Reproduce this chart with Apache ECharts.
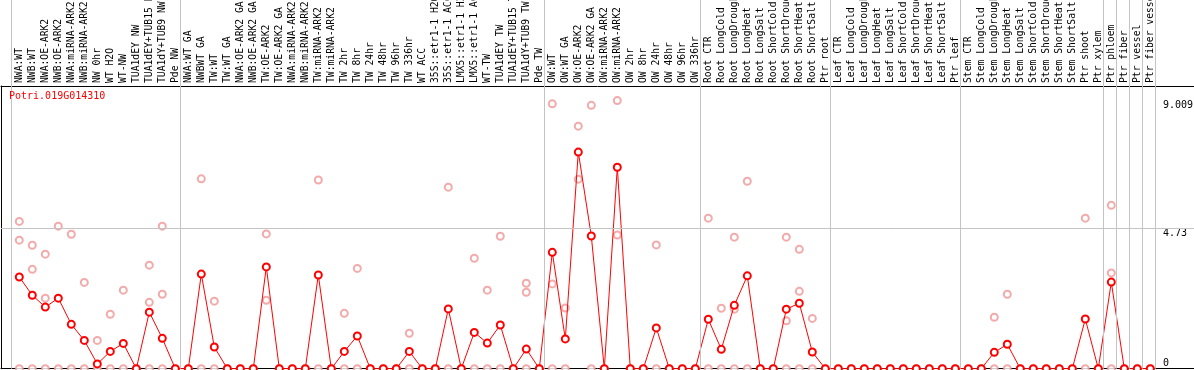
<!DOCTYPE html>
<html><head><meta charset="utf-8">
<script src="https://cdn.jsdelivr.net/npm/echarts@6/dist/echarts.min.js"></script>
<style>html,body{margin:0;padding:0;background:#fff}#c{width:1194px;height:370px}</style>
</head><body><div id="c"></div>
<script>
const geneId = 'Potri.019G014310';

const categories = [
  'NWA:WT','NWB:WT','NWA:OE-ARK2','NWB:OE-ARK2','NWA:miRNA-ARK2','NWB:miRNA-ARK2','NW 0hr','WT H2O','WT-NW',
  'TUA1dEY NW','TUA1dEY+TUB15 NW','TUA1dY+TUB9 NW','Pde NW',
  'NWA:WT GA','NWBWT GA','TW:WT','TW:WT GA','NWA:OE-ARK2 GA','NWB:OE-ARK2 GA','TW:OE-ARK2','TW:OE-ARK2 GA',
  'NWA:miRNA-ARK2','NWB:miRNA-ARK2','TW:miRNA-ARK2','TW:miRNA-ARK2','TW 2hr','TW 8hr','TW 24hr','TW 48hr','TW 96hr','TW 336hr',
  'WT ACC','35S::etr1-1 H2O','35S::etr1-1 ACC','LMX5::etr1-1 H2O','LMX5::etr1-1 ACC','WT-TW','TUA1dEY TW','TUA1dEY+TUB15 TW','TUA1dY+TUB9 TW','Pde TW',
  'OW:WT','OW:WT GA','OW:OE-ARK2','OW:OE-ARK2 GA','OW:miRNA-ARK2','OW:miRNA-ARK2','OW 2hr','OW 8hr','OW 24hr','OW 48hr','OW 96hr','OW 336hr',
  'Root CTR','Root LongCold','Root LongDrought','Root LongHeat','Root LongSalt','Root ShortCold','Root ShortDrought','Root ShortHeat','Root ShortSalt','Ptr root',
  'Leaf CTR','Leaf LongCold','Leaf LongDrought','Leaf LongHeat','Leaf LongSalt','Leaf ShortCold','Leaf ShortDrought','Leaf ShortHeat','Leaf ShortSalt','Ptr leaf',
  'Stem CTR','Stem LongCold','Stem LongDrought','Stem LongHeat','Stem LongSalt','Stem ShortCold','Stem ShortDrought','Stem ShortHeat','Stem ShortSalt','Ptr shoot',
  'Ptr xylem','Ptr phloem','Ptr fiber','Ptr vessel','Ptr fiber vessel'
];

const meanValues = [
  3.08, 2.47, 2.07, 2.37, 1.49, 0.95, 0.16, 0.58, 0.85, 0, 1.90, 1.02, 0,
  0, 3.18, 0.73, 0, 0, 0, 3.42, 0, 0, 0, 3.15, 0, 0.58, 1.10, 0, 0, 0, 0.58,
  0, 0, 2.01, 0, 1.22, 0.86, 1.47, 0, 0.66, 0,
  3.91, 1.00, 7.28, 4.46, 0, 6.77, 0, 0, 1.37, 0, 0, 0,
  1.66, 0.65, 2.13, 3.12, 0, 0, 2.00, 2.20, 0.56, 0,
  0, 0, 0, 0, 0, 0, 0, 0, 0, 0,
  0, 0, 0.55, 0.82, 0, 0, 0, 0, 0, 1.67,
  0, 2.91, 0, 0, 0
];

const replicateValues = [
  [4.95,4.32,0],[4.15,3.34,0],[3.85,2.37,0],[4.79,0],[4.52,0],[2.90,0],[0.95,0],[1.83,0],[2.64,0],[0],[3.48,2.23,0],[4.79,2.50,0],[0],
  [0],[6.38,0],[2.27,0],[0],[0],[0],[4.53,2.30],[0],[0],[0],[6.34,0],[0],[1.86,0],[3.37,0],[0],[0],[0],[1.19,0],
  [0],[0],[6.10,0],[0],[3.71,0],[2.64,0],[4.45,0],[0],[2.87,2.57,0],[0],
  [8.90,2.85,0],[2.04,0],[8.15,6.37],[8.85,0],[0],[9.009,4.49],[0],[0],[4.16,0],[0],[0],[0],
  [5.06,0],[2.03,0],[4.42,2.00,0],[6.30,0],[0],[0],[4.42,1.61,0],[4.01,2.60,0],[1.69,0],[0],
  [0],[0],[0],[0],[0],[0],[0],[0],[0],[0],
  [0],[0],[1.73,0],[2.50,0],[0],[0],[0],[0],[0],[5.06,0],
  [0],[5.49,3.22,0],[0],[0],[0]
];

const yTickValues = [0, 4.73, 9.009];
// index of the last category of each group (-1 = before the first one)
const groupEnds = [-1, 12, 40, 52, 62, 72, 83, 84, 85, 86, 87];

const STEP = 13, FIRST = 19.3, PLOT_TOP = 86, PLOT_BOTTOM = 1.3, Y_MAX = 9.5;
const N = categories.length;
const bandLeft = FIRST - STEP / 2;
const MONO = '"DejaVu Sans Mono", "Liberation Mono", monospace';
const GRAY = '#c4c4c4';

const scatterData = [];
replicateValues.forEach((reps, i) => reps.forEach(v => scatterData.push([i, v])));

const chart = echarts.init(document.getElementById('c'), null, { renderer: 'canvas' });
const hiddenAxisBits = { axisTick: { show: false }, axisLabel: { show: false }, splitLine: { show: false } };
const gridBase = { containLabel: false, outerBoundsMode: 'none' };
const option = {
  animation: false,
  backgroundColor: '#fff',
  title: {
    text: geneId, left: 9, top: 91, padding: 0,
    textStyle: { color: '#ff0000', fontSize: 10, fontWeight: 'normal', fontFamily: MONO }
  },
  grid: [
    Object.assign({ left: 1, right: 0, top: PLOT_TOP, bottom: PLOT_BOTTOM }, gridBase),
    Object.assign({ left: bandLeft, width: STEP * N, top: PLOT_TOP, bottom: PLOT_BOTTOM }, gridBase),
    Object.assign({ left: bandLeft - STEP / 2, width: STEP * (N + 0.5), top: 0, bottom: PLOT_BOTTOM }, gridBase)
  ],
  xAxis: [
    Object.assign({ gridIndex: 0, type: 'value', position: 'bottom', min: 0, max: 1,
      axisLine: { show: true, onZero: false, lineStyle: { color: '#000', width: 1 } } }, hiddenAxisBits),
    Object.assign({ gridIndex: 0, type: 'value', position: 'top', min: 0, max: 1,
      axisLine: { show: true, onZero: false, lineStyle: { color: '#000', width: 1 } } }, hiddenAxisBits),
    { gridIndex: 1, type: 'category', position: 'top', data: categories, boundaryGap: true,
      axisLine: { show: false }, axisTick: { show: false }, splitLine: { show: false },
      axisLabel: { interval: 0, rotate: 90, margin: 3, fontFamily: MONO, fontSize: 9.7, color: '#000', hideOverlap: false } },
    { gridIndex: 2, type: 'value', min: -1, max: N - 0.5, show: false }
  ],
  yAxis: [
    Object.assign({ gridIndex: 0, type: 'value', position: 'left', min: 0, max: Y_MAX,
      axisLine: { show: true, onZero: false, lineStyle: { color: '#000', width: 1 } } }, hiddenAxisBits),
    { gridIndex: 0, type: 'value', position: 'right', min: 0, max: Y_MAX,
      axisLine: { show: false }, axisTick: { show: false }, splitLine: { show: false },
      axisLabel: { inside: true, align: 'left', margin: 31, verticalAlign: 'top',
        customValues: yTickValues.slice(1), formatter: v => String(v),
        fontFamily: MONO, fontSize: 10, color: '#000' } },
    { gridIndex: 0, type: 'value', position: 'right', min: 0, max: Y_MAX,
      axisLine: { show: false }, axisTick: { show: false }, splitLine: { show: false },
      axisLabel: { inside: true, align: 'left', margin: 31, verticalAlign: 'bottom',
        customValues: yTickValues.slice(0, 1), formatter: v => String(v),
        fontFamily: MONO, fontSize: 10, color: '#000' } },
    { gridIndex: 1, type: 'value', min: 0, max: Y_MAX, show: false },
    { gridIndex: 2, type: 'value', min: 0, max: 1, show: false }
  ],
  series: [
    { type: 'line', xAxisIndex: 3, yAxisIndex: 4, data: [], silent: true, z: 1,
      markLine: { silent: true, symbol: ['none', 'none'], label: { show: false },
        lineStyle: { color: GRAY, type: 'solid', width: 1 },
        data: groupEnds.map(i => ({ xAxis: i + 5 / STEP })) } },
    { type: 'line', xAxisIndex: 0, yAxisIndex: 1, data: [], silent: true, z: 1,
      markLine: { silent: true, symbol: ['none', 'none'], label: { show: false },
        lineStyle: { color: GRAY, type: 'solid', width: 1 },
        data: [{ yAxis: yTickValues[1] }] } },
    { type: 'scatter', xAxisIndex: 2, yAxisIndex: 3, data: scatterData, z: 3,
      symbol: 'emptyCircle', symbolSize: 7, itemStyle: { color: '#ef9595', borderWidth: 1.3 } },
    { type: 'line', xAxisIndex: 2, yAxisIndex: 3, data: meanValues, z: 4,
      symbol: 'emptyCircle', symbolSize: 7, showAllSymbol: true,
      itemStyle: { color: '#ff0000', borderWidth: 1.4 },
      lineStyle: { color: '#ff0000', width: 1 } }
  ]
};
chart.setOption(option);
</script>
</body></html>
